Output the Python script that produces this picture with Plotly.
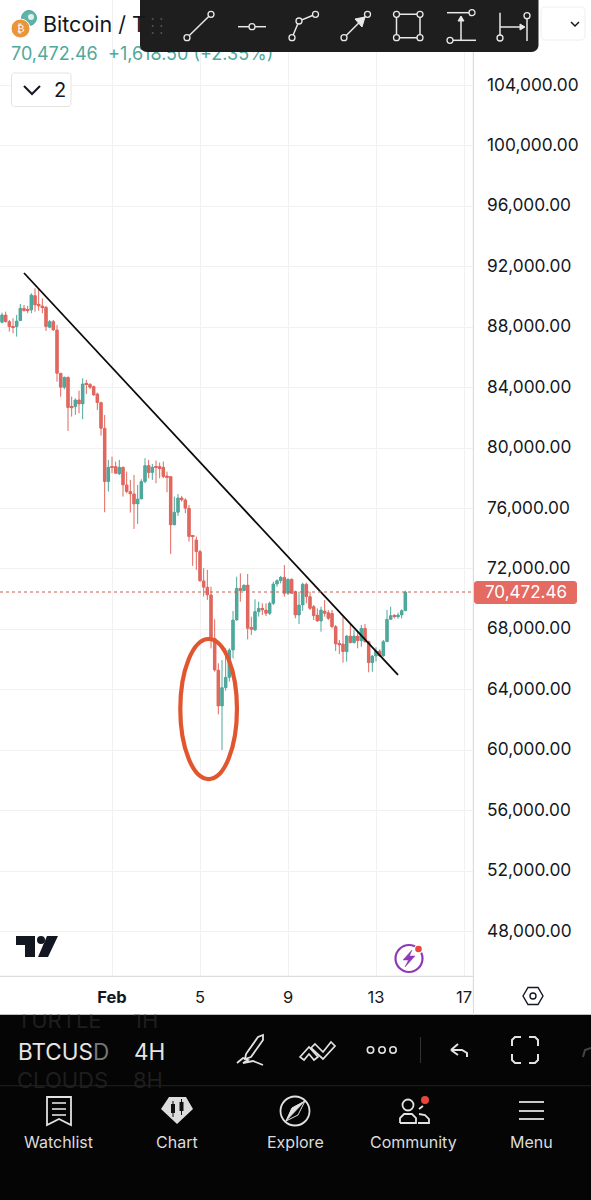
import pandas as pd
import plotly.graph_objects as go

W, H = 591, 1200

# 4H BTCUSD candles
open_prices = [
    88327, 88812, 88371, 88040, 88040, 88437, 89253, 89143, 89143, 90091,
    89518, 89408, 89319, 87996, 88371, 87819, 84951, 84025, 84687, 82745,
    82745, 83187, 82922, 84290, 84223, 84069, 83584, 83010, 81311, 77782,
    78775, 78775, 78289, 78730, 77561, 77120, 76966, 76304, 76635, 77782,
    78841, 78377, 78775, 78775, 78730, 78157, 78113, 74914, 75752, 76701,
    76569, 76017, 74186, 73921, 73149, 71208, 70789, 70281, 67406, 65310,
    62928, 64141, 64825, 66634, 68619, 70715, 70561, 70936, 68134, 67958,
    69171, 69392, 69281, 69061, 69722, 71002, 71222, 71443, 70384, 71311,
    70494, 68950, 69612, 70980, 70164, 69502, 68950, 68553, 69215, 69105,
    69061, 68178, 67075, 67031, 66524, 67561, 67119, 67561, 67252, 68068,
    67186, 65796, 66237, 66568, 66237, 67186, 68663, 68906, 68840, 68950, 69237,
]
high_prices = [
    88966, 89032, 88481, 88591, 88812, 89540, 89474, 89408, 90246, 90577,
    90577, 89915, 89408, 88481, 88481, 88150, 84951, 84731, 84731, 83407,
    83297, 83804, 84620, 84510, 84290, 84135, 83672, 83076, 82194, 79216,
    79436, 79105, 79216, 78775, 78444, 77892, 78223, 77561, 77936, 79326,
    79216, 78951, 79171, 79039, 79105, 78444, 78157, 76789, 76966, 76833,
    76679, 76238, 74252, 74142, 73259, 72046, 71936, 70825, 68663, 65752,
    65972, 66744, 66744, 69215, 71487, 71708, 70936, 71664, 68840, 69987,
    69833, 69722, 69722, 69833, 71156, 71311, 71531, 72259, 71377, 71377,
    70561, 70494, 71090, 71090, 70494, 69612, 69392, 69502, 69943, 69281,
    69281, 68288, 67296, 68840, 67627, 68355, 67958, 67847, 68288, 68355,
    67252, 66303, 66810, 66678, 67296, 69281, 69502, 69016, 69105, 69325, 70561,
]
low_prices = [
    88260, 88304, 87709, 87599, 87378, 88437, 89032, 88922, 88922, 89032,
    89099, 88922, 87753, 87930, 87753, 84400, 83407, 83892, 81135, 82084,
    82194, 82304, 81907, 83584, 83892, 83451, 82525, 80826, 75752, 77120,
    78333, 78289, 78223, 76789, 77010, 75730, 74649, 74980, 76613, 77672,
    78002, 77892, 77672, 78002, 78002, 77076, 72995, 74914, 75510, 76458,
    75686, 73811, 72201, 71936, 71164, 70171, 69951, 66744, 65200, 62376,
    60016, 63942, 64538, 66083, 68575, 69833, 70561, 67340, 67627, 67913,
    68840, 68950, 68884, 68950, 69612, 70825, 71046, 70164, 70274, 70384,
    68730, 68355, 69237, 69722, 69281, 68619, 68509, 67847, 68840, 68619,
    68068, 66568, 66369, 65796, 65862, 67075, 67075, 66744, 66855, 67119,
    65156, 65200, 65862, 66193, 66193, 67186, 68619, 68730, 68700, 68730, 69237,
]
close_prices = [
    88812, 88371, 88040, 87996, 88415, 89253, 89099, 89099, 90136, 89474,
    89408, 89319, 88040, 88371, 87819, 84951, 84025, 84687, 82679, 82679,
    83187, 82922, 84245, 84223, 84025, 83518, 83010, 81311, 77782, 78730,
    78730, 78333, 78730, 77561, 77120, 76966, 76304, 76635, 77782, 78841,
    78377, 78730, 78730, 78664, 78113, 78069, 74914, 75752, 76701, 76569,
    76017, 74142, 74142, 73149, 71208, 70789, 70281, 67406, 65310, 62928,
    64141, 64825, 66634, 68619, 70715, 70561, 70936, 68068, 68002, 69171,
    69392, 69281, 69061, 69722, 71002, 71222, 71443, 70384, 71311, 70384,
    68950, 69612, 70980, 70164, 69392, 68906, 68553, 69281, 69061, 68730,
    68178, 67031, 66965, 66524, 67561, 67119, 67561, 67252, 68068, 67186,
    65796, 66237, 66568, 66237, 67186, 68663, 68906, 68840, 68950, 69237, 70472,
]
dates = pd.date_range("2026-01-27", periods=len(close_prices), freq="4h")

price_ticks = [48000, 52000, 56000, 60000, 64000, 68000, 72000, 76000,
               80000, 84000, 88000, 92000, 96000, 100000, 104000]
date_ticks = ["2026-02-01", "2026-02-05", "2026-02-09", "2026-02-13", "2026-02-17"]
date_labels = ["<b>Feb</b>", "5", "9", "13", "17"]
last_price = 70472.46
trend_x = ["2026-01-28", "2026-02-14"]
trend_y = [91589, 64980]

UP = "#4fa89c"
DOWN = "#e0685f"
FONT = "Inter"
BODY_MS = 0.95 * 4 * 3600 * 1000

shapes = []
notes = []


# screenshot pixels -> paper fractions, for the app chrome around the chart
def fx(px):
    return px / W


def fy(py):
    return 1 - py / H


def poly(pts, color, width=1.5, fill=None, close=False):
    d = "M " + " L ".join(f"{fx(x):.5f},{fy(y):.5f}" for x, y in pts)
    if close:
        d += " Z"
    shapes.append(dict(type="path", xref="paper", yref="paper", path=d,
                       line=dict(color=color, width=width),
                       fillcolor=fill if fill else "rgba(0,0,0,0)"))


def circle(x, y, r, color, width=1.5, fill=None):
    shapes.append(dict(type="circle", xref="paper", yref="paper",
                       x0=fx(x - r), x1=fx(x + r), y0=fy(y + r), y1=fy(y - r),
                       line=dict(color=color, width=width),
                       fillcolor=fill if fill else "rgba(0,0,0,0)"))


def rect(x0, y0, x1, y1, fill, color=None, width=0, layer="above"):
    shapes.append(dict(type="rect", xref="paper", yref="paper", layer=layer,
                       x0=fx(x0), x1=fx(x1), y0=fy(y1), y1=fy(y0),
                       line=dict(color=color if color else fill, width=width),
                       fillcolor=fill))


def rounded(x0, y0, x1, y1, r, fill, color=None, width=0):
    k = 0.45 * r
    d = (f"M {fx(x0 + r)},{fy(y0)} L {fx(x1 - r)},{fy(y0)} "
         f"C {fx(x1 - k)},{fy(y0)} {fx(x1)},{fy(y0 + k)} {fx(x1)},{fy(y0 + r)} "
         f"L {fx(x1)},{fy(y1 - r)} "
         f"C {fx(x1)},{fy(y1 - k)} {fx(x1 - k)},{fy(y1)} {fx(x1 - r)},{fy(y1)} "
         f"L {fx(x0 + r)},{fy(y1)} "
         f"C {fx(x0 + k)},{fy(y1)} {fx(x0)},{fy(y1 - k)} {fx(x0)},{fy(y1 - r)} "
         f"L {fx(x0)},{fy(y0 + r)} "
         f"C {fx(x0)},{fy(y0 + k)} {fx(x0 + k)},{fy(y0)} {fx(x0 + r)},{fy(y0)} Z")
    shapes.append(dict(type="path", xref="paper", yref="paper", path=d,
                       line=dict(color=color if color else fill, width=width),
                       fillcolor=fill))


def label(x, y, text, size, color, anchor="left", family=FONT):
    notes.append(dict(xref="paper", yref="paper", x=fx(x), y=fy(y), text=text,
                      showarrow=False, xanchor=anchor, yanchor="middle", borderpad=0,
                      font=dict(size=size, color=color, family=family)))


# axis frame lines
rect(0, 975.8, 473, 977, "#dcdcdc")
rect(472.8, 0, 474, 1015, "#dcdcdc")

# trend line and the hand drawn ellipse live in data space
shapes.append(dict(type="line", xref="x", yref="y", x0=trend_x[0], x1=trend_x[1],
                   y0=trend_y[0], y1=trend_y[1], line=dict(color="#0a0a0a", width=1.8)))
shapes.append(dict(type="circle", xref="x", yref="y",
                   x0="2026-02-04 02:30", x1="2026-02-06 16:20", y0=58090, y1=67360,
                   line=dict(color="#e2562f", width=4.2)))
shapes.append(dict(type="line", xref="paper", yref="y", x0=0, x1=fx(473),
                   y0=last_price, y1=last_price,
                   line=dict(color="#cc5a52", width=1, dash="dot")))

# last price tag
rounded(474, 581, 577, 604, 3, "#e46a62")
label(526, 592, "70,472.46", 17, "white", "center")

# header
circle(29, 18, 7.5, "#4fa89c", 1, "#5fb3a8")
circle(31, 17, 3, "#ffffff", 0, "#dff1ee")
circle(20.5, 28.5, 9.5, "#ffffff", 1, "#e8963a")
label(20.5, 28.5, "₿", 11, "white", "center", "DejaVu Sans")
label(42, 24.5, "Bitcoin / T", 21.5, "#131722")

rounded(11.5, 73, 71, 106.5, 3, "white", "#e3e3e3", 1)
poly([(24, 86), (32, 94), (40, 86)], "#131722", 2)
label(59.5, 89.5, "2", 20, "#131722", "center")

rounded(541, 7, 585, 40, 4, "white", "#eeeeee", 1)
poly([(571, 22), (575, 26), (579, 22)], "#131722", 1.5)

# floating drawing toolbar
rounded(140, -6, 538.5, 52, 7, "#1e1e1e")
for gx in (152.7, 161.3):
    for gy in (19, 26, 33):
        circle(gx, gy, 1, "#555555", 0, "#555555")
TOOL = "#e8e8e8"
poly([(187, 37.7), (211, 14.3)], TOOL)
poly([(238, 26.7), (266, 26.7)], TOOL)
poly([(292, 37.7), (299, 21), (315.5, 14.3)], TOOL)
poly([(344, 37.7), (367.5, 14.3)], TOOL)
poly([(355, 19), (365, 17), (362, 27)], "#e8e8e8", 1, "#e8e8e8", True)
poly([(396.5, 14.3), (420, 14.3), (420, 37.7), (396.5, 37.7)], TOOL, close=True)
poly([(447, 12.7), (472, 12.7)], TOOL)
poly([(450, 40.3), (476, 40.3)], TOOL)
poly([(461, 40.3), (461, 17)], TOOL)
poly([(458, 21), (461, 16), (464, 21)], TOOL, 1, TOOL, True)
poly([(500, 12.7), (500, 38)], TOOL)
poly([(527, 15.7), (527, 41)], TOOL)
poly([(500, 27), (524, 27)], TOOL)
poly([(520, 24), (525, 27), (520, 30)], TOOL, 1, TOOL, True)
for cx, cy in [(187, 37.7), (211, 14.3), (252, 26.7), (292, 37.7), (299, 21), (315.5, 14.3),
               (344, 37.7), (367.5, 14.3), (396.5, 14.3), (420, 14.3), (396.5, 37.7),
               (420, 37.7), (472, 12.7), (450, 40.3), (500, 38), (527, 15.7)]:
    circle(cx, cy, 3, TOOL, 1.3, "#1e1e1e")

# TradingView mark
poly([(16, 936), (35, 936), (35, 957), (25, 957), (25, 945), (16, 945)], "#131722", 0, "#131722", True)
circle(41, 940, 4, "#131722", 0, "#131722")
poly([(47, 936), (58, 936), (48, 957), (38, 957)], "#131722", 0, "#131722", True)

# bolt badge
circle(409, 958.5, 13.5, "#8e3ab8", 2.2)
circle(418.5, 949, 4.5, "white", 0, "white")
circle(418.5, 949, 3.3, "#e8453c", 0, "#e8453c")
poly([(412, 950), (403, 960), (408.5, 960), (405, 967), (415, 956), (409.5, 956)], "#8e3ab8", 0.5, "#8e3ab8", True)

# settings hexagon on the time axis
poly([(523, 996), (528, 987.5), (538, 987.5), (543, 996), (538, 1004.5), (528, 1004.5)], "#131722", 1.4, close=True)
circle(533, 996, 3, "#131722", 1.4)

# dark bottom panel sits under the traces so the faded picker rows can show on it;
# the white strip above it cuts the top of the TURTLE row off
rect(0, 1014.5, W, H, "#050505", layer="below")
rect(0, 1006, 472.8, 1014.5, "white")
rect(474, 1006, W, 1014.5, "white")
rect(0, 1085.3, W, 1086.3, "#222222")
label(17, 1051, "BTCUS<span style='color:#777777'>D</span>", 22.5, "#e6e6e6")
label(133, 1051, "4H", 22.5, "#e6e6e6")

ICON = "#e2e2e2"
# pen
poly([(246, 1054), (258, 1037), (263, 1035), (263, 1040), (251, 1057), (245, 1059), (246, 1054)], ICON, 1.8)
poly([(237, 1063), (243, 1058), (248, 1060), (243, 1063), (253, 1061), (263, 1065)], ICON, 1.8)
# chain
poly([(300, 1057), (309, 1047), (318, 1057), (314, 1060), (309, 1054), (304, 1060)], ICON, 1.7, close=True)
poly([(315, 1044), (323, 1052), (331, 1042), (335, 1046), (323, 1059), (311, 1048)], ICON, 1.7, close=True)
# dots, divider, undo, fullscreen
for ox in (370.5, 382, 393):
    circle(ox, 1050, 3.2, ICON, 1.6)
rect(420, 1037, 421, 1063, "#333333")
poly([(451, 1050), (458, 1044)], ICON, 2)
poly([(451, 1050), (458, 1055)], ICON, 2)
poly([(451, 1050), (462, 1050), (467, 1053), (467, 1057)], ICON, 2)
for bx, by, sx, sy in [(512, 1037, 1, 1), (538, 1037, -1, 1), (512, 1063, 1, -1), (538, 1063, -1, -1)]:
    poly([(bx, by + 9 * sy), (bx, by + 3 * sy), (bx + 3 * sx, by), (bx + 9 * sx, by)], ICON, 2)
poly([(583, 1057), (585, 1050), (591, 1048)], "#444444", 2)

# nav bar: watchlist
poly([(47, 1097), (71, 1097), (71, 1125), (59, 1119), (47, 1125)], ICON, 1.8, close=True)
for ly in (1103, 1109, 1115):
    poly([(52, ly), (66, ly)], ICON, 1.6)
# chart
poly([(169, 1097), (186, 1097), (193, 1109), (177, 1124), (161, 1109)], "#dddddd", 0, "#dddddd", True)
rect(171, 1104, 175, 1113, "#111111")
rect(179.5, 1102, 183.5, 1111, "#111111")
poly([(173, 1101), (173, 1117)], "#111111", 1)
poly([(181.5, 1099), (181.5, 1115)], "#111111", 1)
# explore
circle(295, 1111, 14.5, ICON, 1.8)
poly([(305, 1101), (298, 1115), (286, 1121), (292, 1108)], ICON, 1, None, True)
poly([(305, 1101), (292, 1108), (286, 1121)], ICON, 0.5, ICON, True)
# community
circle(408, 1105, 5.5, ICON, 1.8)
poly([(400, 1123), (400, 1118), (404, 1114), (412, 1114), (416, 1118), (416, 1123), (400, 1123)], ICON, 1.8)
poly([(419, 1109), (423, 1106)], ICON, 1.8)
poly([(419, 1114), (425, 1115), (429, 1119), (429, 1123), (418, 1123)], ICON, 1.8)
circle(425, 1100, 4, "#e8453c", 0, "#e8453c")
# menu
for ly in (1102, 1111, 1119):
    poly([(519, ly), (544, ly)], ICON, 1.8)

NAV = "#dcdcdc"
label(58.5, 1141.5, "Watchlist", 16, NAV, "center")
label(177, 1141.5, "Chart", 16, NAV, "center")
label(295, 1141.5, "Explore", 16, NAV, "center")
label(413.5, 1141.5, "Community", 16, NAV, "center")
label(531.5, 1141.5, "Menu", 16, NAV, "center")

fig = go.Figure()
# candlestick bodies come out too thin, so wider bars carry the bodies over the wicks
fig.add_trace(go.Bar(
    x=dates,
    base=[min(o, c) for o, c in zip(open_prices, close_prices)],
    y=[abs(c - o) for o, c in zip(open_prices, close_prices)],
    width=BODY_MS,
    marker=dict(color=[UP if c >= o else DOWN for o, c in zip(open_prices, close_prices)],
                line=dict(width=0)),
    showlegend=False, hoverinfo="skip",
))
fig.add_trace(go.Candlestick(
    x=dates, open=open_prices, high=high_prices, low=low_prices, close=close_prices,
    increasing=dict(line=dict(color=UP, width=1), fillcolor=UP),
    decreasing=dict(line=dict(color=DOWN, width=1), fillcolor=DOWN),
    whiskerwidth=0, showlegend=False, hoverinfo="skip",
))
# header quote and faded picker rows sit on a hidden full-page axis pair,
# so the toolbar and strip shapes can overlap them
fig.add_trace(go.Scatter(
    x=[11, 108], y=[55, 55], text=["70,472.46", "+1,618.50 (+2.35%)"],
    mode="text", textposition="middle right", xaxis="x2", yaxis="y2",
    textfont=dict(size=18, color=UP, family=FONT), showlegend=False, hoverinfo="skip",
))
fig.add_trace(go.Scatter(
    x=[17, 133, 17, 133], y=[1022, 1022, 1082, 1082],
    text=["TURTLE", "1H", "CLOUDS", "8H"],
    mode="text", textposition="middle right", xaxis="x2", yaxis="y2",
    textfont=dict(size=22, color="#1e1e1e", family=FONT), showlegend=False, hoverinfo="skip",
))

fig.update_layout(
    width=W, height=H, margin=dict(l=0, r=0, t=0, b=0),
    paper_bgcolor="white", plot_bgcolor="rgba(0,0,0,0)", showlegend=False,
    barmode="overlay",
    shapes=shapes, annotations=notes,
    xaxis=dict(
        domain=[0, 473 / W], type="date",
        range=["2026-01-26 21:49", "2026-02-17 09:49"],
        rangeslider=dict(visible=False),
        tickvals=date_ticks, ticktext=date_labels, ticklen=0,
        ticklabelstandoff=9,
        tickfont=dict(size=16.5, color="#131722", family=FONT),
        showgrid=True, gridcolor="#f1f1f1", gridwidth=1, zeroline=False, showline=False,
    ),
    yaxis=dict(
        domain=[1 - 976 / H, 1], side="right", range=[45054, 109660],
        tickvals=price_ticks, tickformat=",.2f", ticklen=0,
        ticklabelstandoff=13, ticklabelshift=-1,
        tickfont=dict(size=17.3, color="#131722", family=FONT),
        showgrid=True, gridcolor="#f1f1f1", gridwidth=1, zeroline=False, showline=False,
    ),
    xaxis2=dict(domain=[0, 1], range=[0, W], visible=False, anchor="y2"),
    yaxis2=dict(domain=[0, 1], range=[H, 0], visible=False, anchor="x2"),
)

fig.write_html("out.html", config=dict(displayModeBar=False),
               post_script="document.body.style.margin='0';document.body.style.overflow='hidden';")
